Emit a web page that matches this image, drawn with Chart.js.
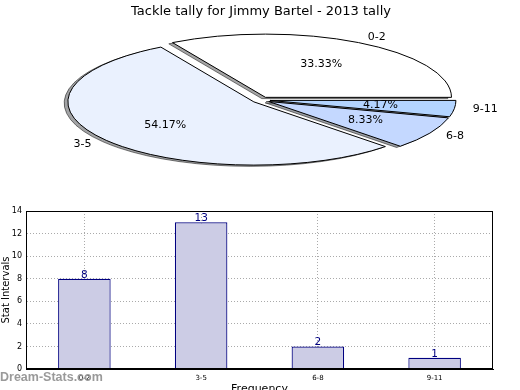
<!DOCTYPE html>
<html><head><meta charset="utf-8">
<script src="https://cdn.jsdelivr.net/npm/chart.js@4/dist/chart.umd.min.js"></script>
<style>
html,body{margin:0;padding:0;background:#fff;overflow:hidden;width:520px;height:390px;}
#pie{position:absolute;left:0;top:0;width:520px;height:200px;}
#bar{position:absolute;left:0;top:200px;width:520px;height:200px;}
#wm{position:absolute;left:0;top:370px;font:bold 12.5px "Liberation Sans",Arial,sans-serif;color:#9a9a9a;white-space:nowrap;}
</style></head><body>
<canvas id="pie" width="520" height="200"></canvas>
<canvas id="bar" width="520" height="200"></canvas>
<div id="wm">Dream-Stats.com</div>
<script>
// ---- data ----
const chartTitle = 'Tackle tally for Jimmy Bartel - 2013 tally';
const categories = ['0-2', '3-5', '6-8', '9-11'];
const tallies = [8, 13, 2, 1];
const yTicksMin = 0, yTicksMax = 14, yTickStep = 2;
const xAxisTitle = 'Frequency';
const yAxisTitle = 'Stat Intervals';

// ---- styles ----
const sliceColors = ['#ffffff', '#eaf1fe', '#c4d8ff', '#b3d4ff'];
const K = 0.34;         // vertical squash of the pie
const EXPLODE = 9;      // px
const SHADOW = 3.7;     // px
Chart.defaults.font.family = '"DejaVu Sans", sans-serif';
Chart.defaults.color = '#000';

// pie drawn counter-clockwise from east, like the original => reverse order, clockwise from east
const pieLabels = categories.slice().reverse();
const pieValues = tallies.slice().reverse();
const pieColors = sliceColors.slice().reverse();

const ellipsePie = {
  id: 'ellipsePie',
  beforeDatasetsDraw(chart) {
    const ctx = chart.ctx;
    const meta = chart.getDatasetMeta(0);
    const base = ctx.getTransform();
    const origStroke = CanvasRenderingContext2D.prototype.stroke;
    ctx.stroke = function () { this.save(); this.setTransform(base); origStroke.apply(this, arguments); this.restore(); };
    ['shadow', 'main'].forEach(pass => {
      meta.data.forEach(arc => {
        const cx = arc.x, cy = arc.y;
        const mid = (arc.startAngle + arc.endAngle) / 2;
        ctx.save();
        ctx.translate(cx, cy); ctx.scale(1, K); ctx.translate(-cx, -cy);
        ctx.translate(Math.cos(mid) * EXPLODE, Math.sin(mid) * EXPLODE);
        if (pass === 'shadow') {
          ctx.translate(-SHADOW, SHADOW);
          ctx.filter = 'brightness(0.3)';
          ctx.globalAlpha = 0.5;
        }
        arc.draw(ctx);
        ctx.restore();
      });
    });
    delete ctx.stroke;
    return false;
  },
  afterDraw(chart) {
    const ctx = chart.ctx;
    const meta = chart.getDatasetMeta(0);
    const vals = chart.data.datasets[0].data;
    const total = vals.reduce((a, b) => a + b, 0);
    ctx.save();
    ctx.font = '11px "DejaVu Sans"';
    ctx.fillStyle = '#000';
    ctx.textBaseline = 'middle';
    meta.data.forEach((arc, i) => {
      const mid = (arc.startAngle + arc.endAngle) / 2;
      const r = arc.outerRadius;
      const pos = f => [arc.x + Math.cos(mid) * (EXPLODE + f * r), arc.y + Math.sin(mid) * (EXPLODE + f * r) * K];
      const [lx, ly] = pos(1.1);
      ctx.textAlign = lx > arc.x ? 'left' : 'right';
      ctx.fillText(chart.data.labels[i], lx, ly);
      const [px, py] = pos(0.6);
      ctx.textAlign = 'center';
      ctx.fillText((vals[i] / total * 100).toFixed(2) + '%', px, py);
    });
    ctx.restore();
  }
};

new Chart(document.getElementById('pie'), {
  type: 'pie',
  data: {
    labels: pieLabels,
    datasets: [{
      data: pieValues,
      backgroundColor: pieColors,
      borderColor: '#000',
      borderWidth: 1,
      borderJoinStyle: 'miter',
      radius: 186,
      clip: false
    }]
  },
  options: {
    responsive: false,
    animation: false,
    rotation: 90,
    layout: { padding: { left: 2, right: 0, top: 0, bottom: 24.6 } },
    plugins: {
      legend: { display: false },
      tooltip: { enabled: false },
      title: { display: true, text: chartTitle, font: { size: 13, weight: 'normal' }, color: '#000', padding: { top: 4, bottom: 5 } }
    }
  },
  plugins: [ellipsePie]
});

const barExtras = {
  id: 'barExtras',
  afterDatasetsDraw(chart) {
    const ctx = chart.ctx;
    const meta = chart.getDatasetMeta(0);
    ctx.save();
    ctx.font = '10.5px "DejaVu Sans"';
    ctx.fillStyle = '#000080';
    ctx.textAlign = 'center';
    ctx.textBaseline = 'alphabetic';
    meta.data.forEach((bar, i) => ctx.fillText(String(chart.data.datasets[0].data[i]), bar.x, bar.y - 1));
    ctx.restore();
  },
  afterDraw(chart) {
    const { ctx, chartArea: a } = chart;
    ctx.save();
    ctx.strokeStyle = '#000';
    ctx.lineWidth = 1;
    ctx.strokeRect(Math.round(a.left) + 0.5, Math.round(a.top) + 0.5, Math.round(a.right - a.left) - 1, Math.round(a.bottom - a.top) - 1);
    ctx.restore();
  }
};

new Chart(document.getElementById('bar'), {
  type: 'bar',
  data: {
    labels: categories,
    datasets: [{
      data: tallies,
      backgroundColor: '#ccccE5',
      borderColor: '#000080',
      borderWidth: 1.2,
      barPercentage: 0.45,
      categoryPercentage: 1
    }]
  },
  options: {
    responsive: false,
    animation: false,
    layout: { padding: { top: 11, right: 27, left: 0, bottom: 0 } },
    plugins: { legend: { display: false }, tooltip: { enabled: false } },
    scales: {
      x: {
        z: 1,
        offset: true,
        grid: { offset: false, color: '#aaaaaa', lineWidth: 1, drawTicks: false },
        border: { color: '#000', width: 1, dash: [1, 2] },
        ticks: { font: { size: 7 }, color: '#000', padding: 5, maxRotation: 0 },
        title: { display: true, text: xAxisTitle, font: { size: 11 }, color: '#000', padding: { top: 0, bottom: 4 } },
        afterFit(s) { s.height = 31; }
      },
      y: {
        z: 1,
        min: yTicksMin,
        max: yTicksMax,
        grid: { color: '#aaaaaa', lineWidth: 1, drawTicks: false },
        border: { color: '#000', width: 1, dash: [1, 2] },
        ticks: { stepSize: yTickStep, font: { size: 8 }, color: '#000', padding: 4 },
        title: { display: true, text: yAxisTitle, font: { size: 10 }, color: '#000', padding: 0 },
        afterFit(s) { s.width = 26; }
      }
    }
  },
  plugins: [barExtras]
});
</script>
</body></html>
